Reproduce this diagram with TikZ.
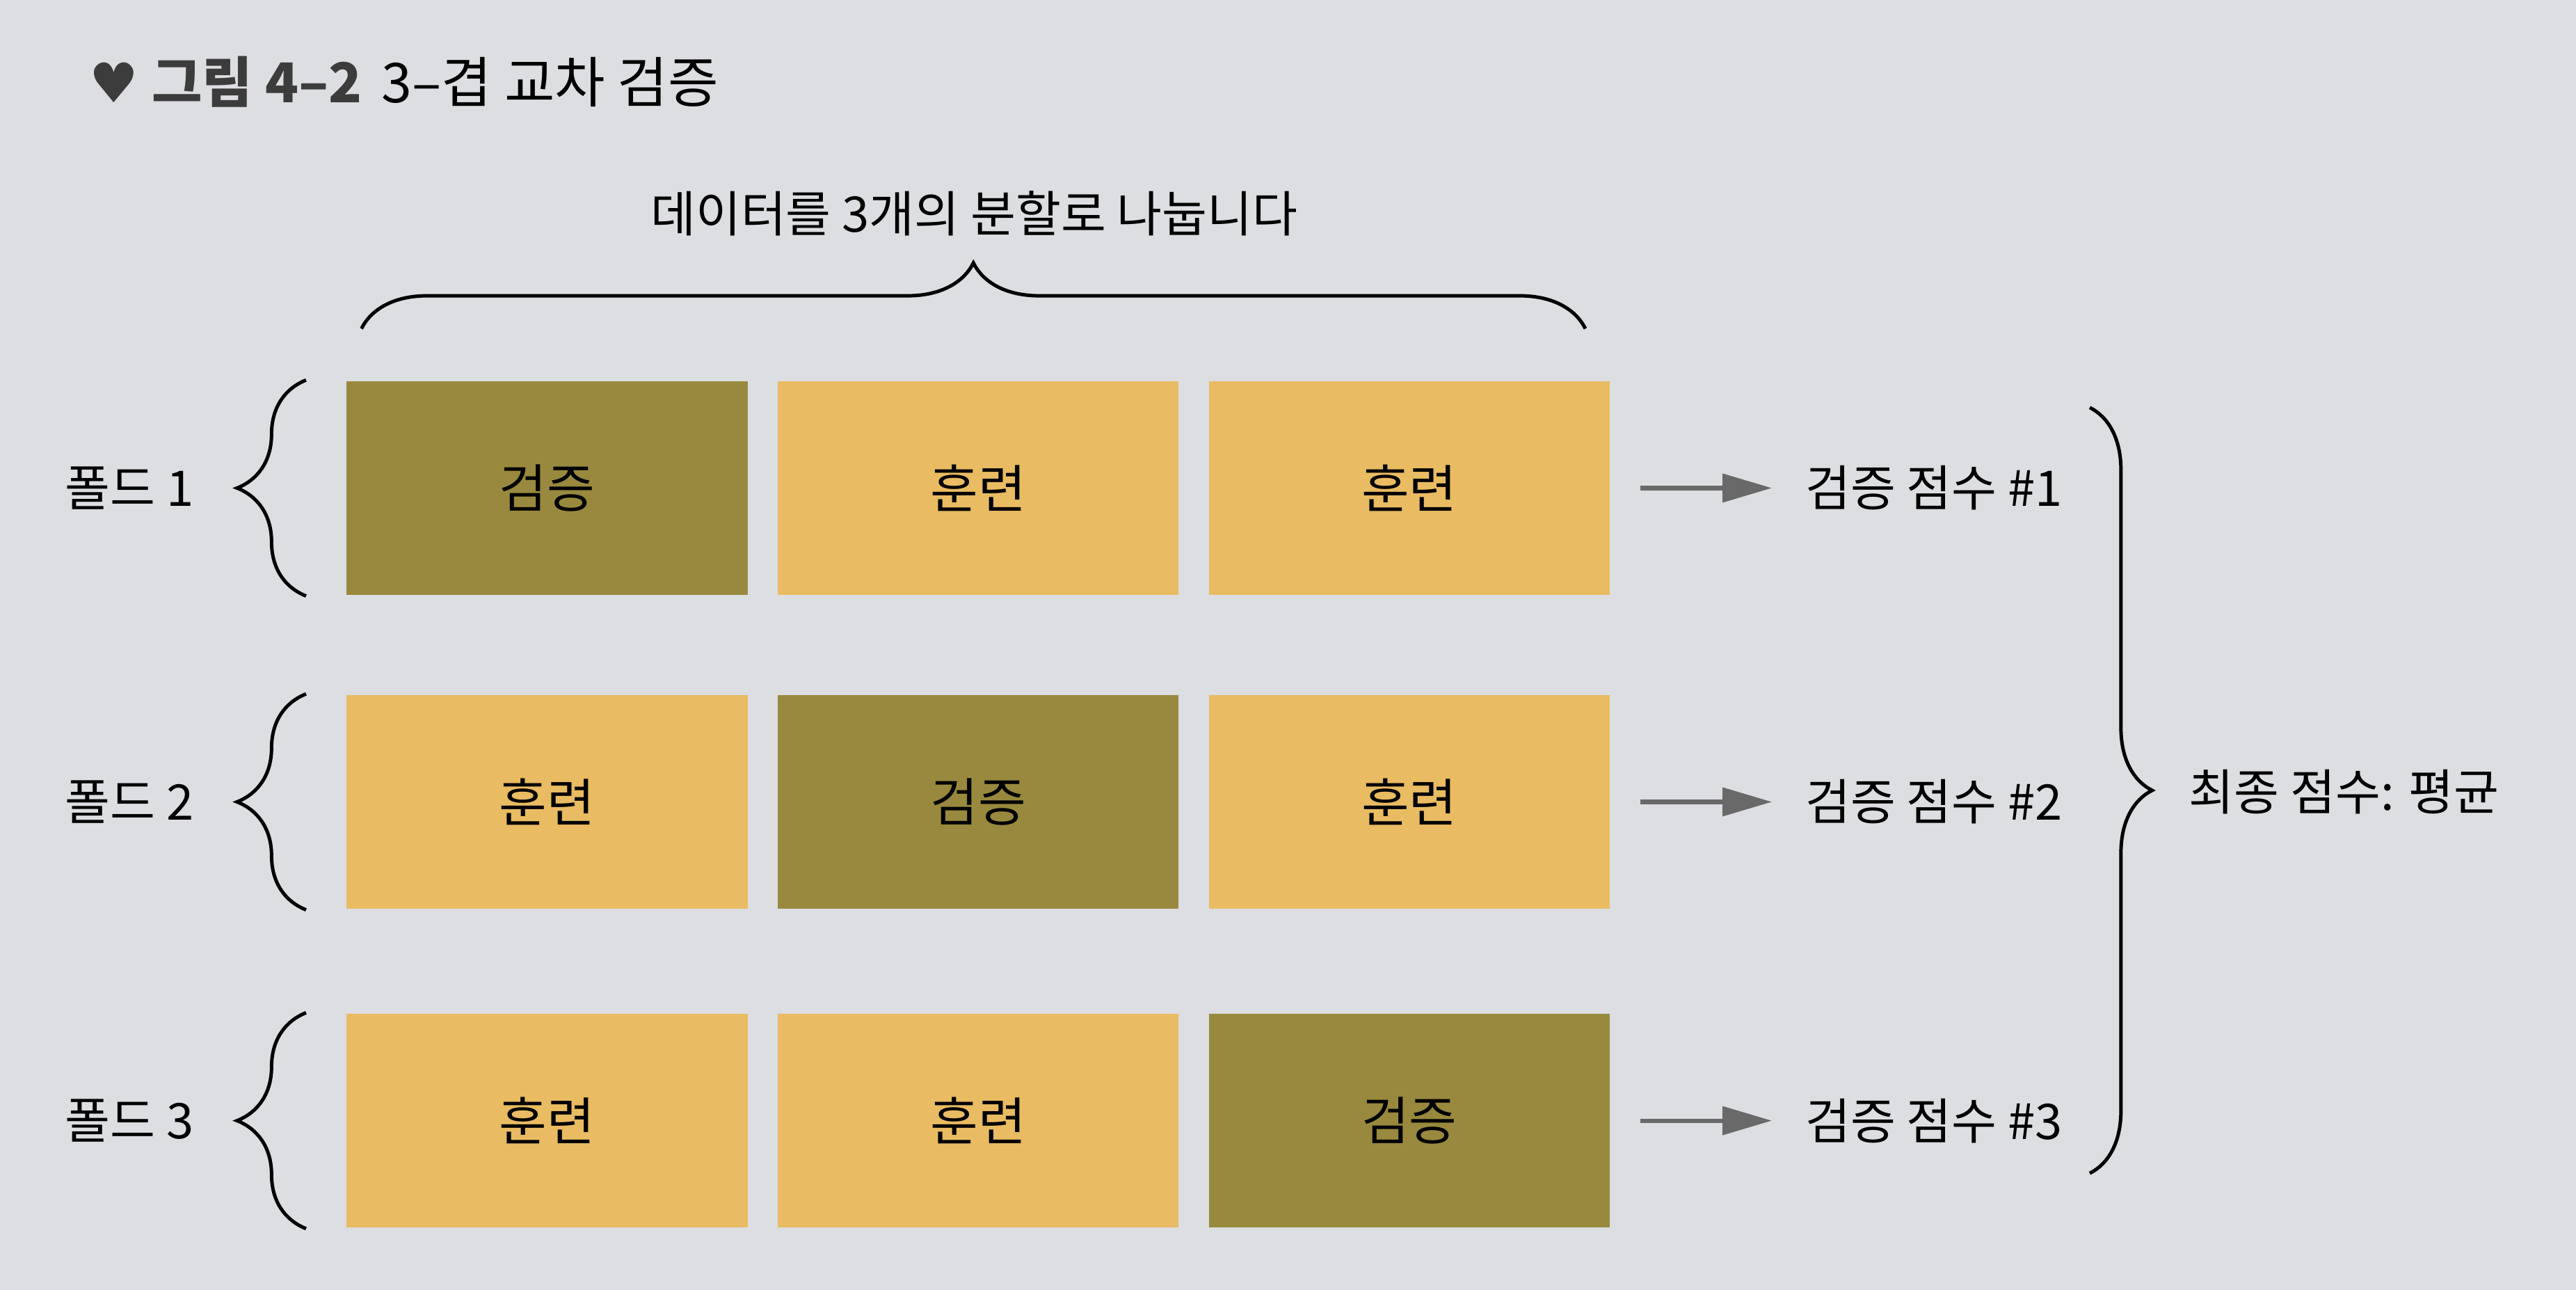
\documentclass[tikz,border=0pt]{standalone}
\usepackage{fontspec}
\setmainfont{Noto Sans CJK KR}
\newfontfamily\symfont{DejaVu Sans}
\usetikzlibrary{positioning,decorations.pathreplacing,arrows.meta}
\definecolor{paper}{RGB}{220,222,226}
\definecolor{valcol}{RGB}{152,137,62}
\definecolor{traincol}{RGB}{233,187,98}
\definecolor{arrowgray}{RGB}{105,105,105}
\definecolor{inkgray}{RGB}{60,60,60}

\begin{document}
\begin{tikzpicture}[
    trainbox/.style={rectangle, fill=traincol, minimum width=2.44cm, minimum height=1.30cm, inner sep=0pt, font=\fontsize{9}{11}\selectfont},
    valbox/.style={trainbox, fill=valcol},
    foldbrace/.style={decorate, decoration={brace, amplitude=0.42cm}, line width=0.6pt},
    scorearrow/.style={-{Triangle[length=0.30cm, width=0.17cm]}, arrowgray, line width=0.75pt, shorten <=0.18cm, shorten >=0.08cm},
    font=\fontsize{8.5}{10}\selectfont,
    node distance=0.17cm
]

  % Paper
  \fill[paper] (0,0) rectangle (15.68,-7.85);
  \useasboundingbox (0,0) rectangle (15.68,-7.85);

  % Title
  \node[anchor=west, font=\fontsize{9.5}{11}\selectfont] (title) at (0.42,-0.50)
    {{\symfont\color{inkgray}♥}\hspace{0.08cm}{\color{inkgray}\bfseries 그림 4–2}\hspace{0.12cm}3–겹 교차 검증};

  % Split label and top brace
  \node (split) at (5.93,-1.30) {데이터를 3개의 분할로 나눕니다};
  \draw[foldbrace, decoration={amplitude=0.40cm}] (2.20,-2.00) -- (9.65,-2.00);

  % Fold 1
  \node[valbox] (b11) at (3.33,-2.97) {검증};
  \node[trainbox, right=of b11] (b12) {훈련};
  \node[trainbox, right=of b12] (b13) {훈련};

  % Fold 2
  \node[trainbox] (b21) at (3.33,-4.88) {훈련};
  \node[valbox, right=of b21] (b22) {검증};
  \node[trainbox, right=of b22] (b23) {훈련};

  % Fold 3
  \node[trainbox] (b31) at (3.33,-6.82) {훈련};
  \node[trainbox, right=of b31] (b32) {훈련};
  \node[valbox, right=of b32] (b33) {검증};

  % Fold braces and labels
  \draw[foldbrace] ([xshift=-0.24cm]b11.south west) -- ([xshift=-0.24cm]b11.north west);
  \draw[foldbrace] ([xshift=-0.24cm]b21.south west) -- ([xshift=-0.24cm]b21.north west);
  \draw[foldbrace] ([xshift=-0.24cm]b31.south west) -- ([xshift=-0.24cm]b31.north west);
  \node[left=0.80cm of b11] (f1) {폴드 1};
  \node[left=0.80cm of b21] (f2) {폴드 2};
  \node[left=0.80cm of b31] (f3) {폴드 3};

  % Scores
  \node[right=1.06cm of b13] (s1) {검증 점수 \#1};
  \node[right=1.06cm of b23] (s2) {검증 점수 \#2};
  \node[right=1.06cm of b33] (s3) {검증 점수 \#3};
  \draw[scorearrow] (b13) -- (s1);
  \draw[scorearrow] (b23) -- (s2);
  \draw[scorearrow] (b33) -- (s3);

  % Final score
  \coordinate (rtop) at (12.72,-2.48);
  \coordinate (rbot) at (12.72,-7.14);
  \draw[foldbrace, decoration={amplitude=0.38cm}] (rtop) -- (rbot);
  \node[anchor=west] (final) at (13.20,-4.82) {최종 점수: 평균};

\end{tikzpicture}
\end{document}
